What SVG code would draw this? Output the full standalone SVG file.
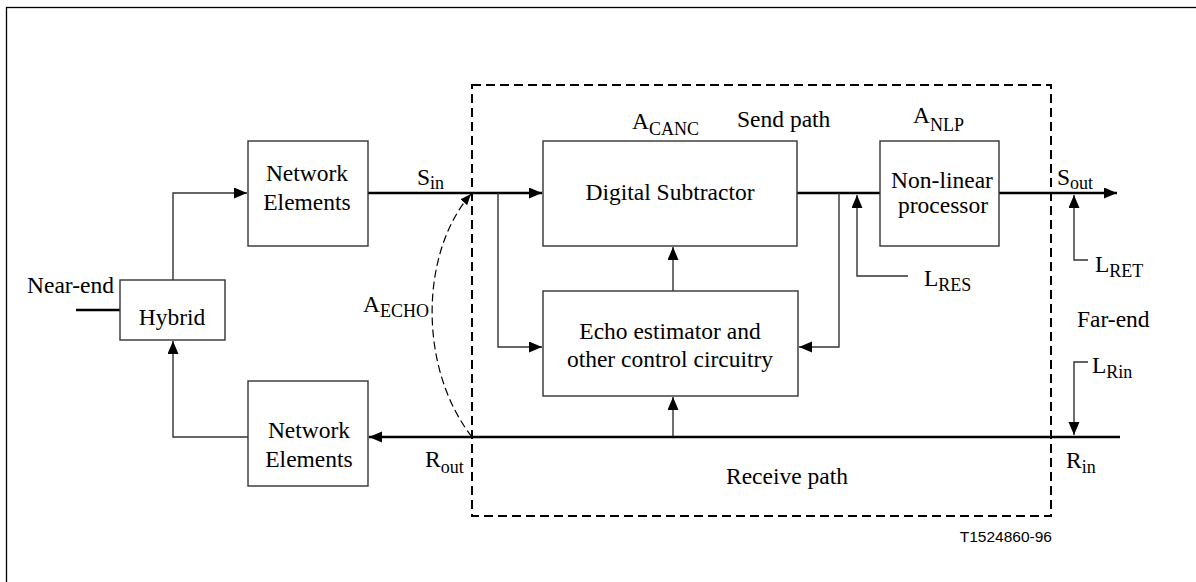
<svg xmlns="http://www.w3.org/2000/svg" width="1196" height="582" viewBox="0 0 1196 582">
<style>
  .box { fill: #fff; stroke: #333; stroke-width: 1.4; }
  text { font-family: 'Liberation Serif', Tinos, 'Times New Roman', Times, 'DejaVu Serif', serif; font-size: 23.5px; fill: #000; }
  .c { text-anchor: middle; }
  .sub { font-size: 18px; }
  .thin { fill: none; stroke: #333; stroke-width: 1.4; }
  .thick { fill: none; stroke: #000; stroke-width: 2.6; }
  .dash { fill: none; stroke: #000; stroke-width: 2; stroke-dasharray: 9 5; }
  .arc { fill: none; stroke: #000; stroke-width: 1.2; stroke-dasharray: 8 4; }
  text.code { font-family: 'Liberation Sans', Arial, sans-serif; font-size: 15.5px; text-anchor: end; }
</style>
<defs>
  <marker id="ah" markerUnits="userSpaceOnUse" markerWidth="14" markerHeight="12" refX="13" refY="5.5" orient="auto">
    <path d="M0,0 L13,5.5 L0,11 z" fill="#000"/>
  </marker>
  <marker id="ahs" markerUnits="userSpaceOnUse" markerWidth="12" markerHeight="10" refX="11" refY="4.5" orient="auto">
    <path d="M0,0 L11,4.5 L0,9 z" fill="#000"/>
  </marker>
</defs>
<rect x="6.5" y="7.5" width="1200" height="600" fill="#fff" stroke="#000" stroke-width="1.3"/>
<rect id="ec-boundary" x="472" y="85" width="579" height="431" class="dash"/>

<g id="connectors">
  <path class="thick" d="M76,310 H120"/>
  <path class="thin" d="M173,280 V193 H247" marker-end="url(#ah)"/>
  <path class="thin" d="M248,437 H173 V341" marker-end="url(#ah)"/>
  <path class="thick" d="M368,193 H542" marker-end="url(#ah)"/>
  <path class="thin" d="M498,193 V347 H542" marker-end="url(#ah)"/>
  <path class="thin" d="M673,291 V247" marker-end="url(#ah)"/>
  <path class="thin" d="M673,437 V397" marker-end="url(#ah)"/>
  <path class="thick" d="M797,193 H880"/>
  <path class="thin" d="M839,193 V347 H799" marker-end="url(#ah)"/>
  <path class="thin" d="M908,276 H857 V195" marker-end="url(#ah)"/>
  <path class="thick" d="M999,193 H1117" marker-end="url(#ah)"/>
  <path class="thin" d="M1088,260 H1074 V195" marker-end="url(#ah)"/>
  <path class="thin" d="M1088,362 H1074 V435" marker-end="url(#ah)"/>
  <path class="thick" d="M1120,437 H369" marker-end="url(#ah)"/>
  <path class="arc" d="M472,437 C418,368 420,252 471,194" marker-end="url(#ahs)"/>
</g>

<g id="network-elements-send">
  <rect class="box" x="248" y="141" width="120" height="105"/>
  <text class="c" x="307" y="181">Network</text>
  <text class="c" x="307" y="210">Elements</text>
</g>
<g id="hybrid">
  <rect class="box" x="120" y="280" width="105" height="60"/>
  <text class="c" x="172" y="325">Hybrid</text>
</g>
<g id="network-elements-receive">
  <rect class="box" x="248" y="381" width="120" height="105"/>
  <text class="c" x="309" y="438">Network</text>
  <text class="c" x="309" y="467">Elements</text>
</g>
<g id="digital-subtractor">
  <rect class="box" x="543" y="141" width="254" height="105"/>
  <text class="c" x="670" y="200">Digital Subtractor</text>
</g>
<g id="echo-estimator">
  <rect class="box" x="543" y="291" width="255" height="105"/>
  <text class="c" x="670" y="339">Echo estimator and</text>
  <text class="c" x="670" y="367">other control circuitry</text>
</g>
<g id="non-linear-processor">
  <rect class="box" x="880" y="141" width="119" height="105"/>
  <text class="c" x="942" y="188">Non-linear</text>
  <text class="c" x="943" y="213">processor</text>
</g>

<g id="labels">
  <text x="27" y="293">Near-end</text>
  <text x="417" y="185">S<tspan class="sub" dy="4">in</tspan></text>
  <text x="632" y="129">A<tspan class="sub" dy="6">CANC</tspan></text>
  <text x="737" y="127">Send path</text>
  <text x="913" y="123">A<tspan class="sub" dy="8">NLP</tspan></text>
  <text x="1057" y="185">S<tspan class="sub" dy="4">out</tspan></text>
  <text x="924" y="286">L<tspan class="sub" dy="5">RES</tspan></text>
  <text x="1095" y="272">L<tspan class="sub" dy="5">RET</tspan></text>
  <text x="1077" y="327">Far-end</text>
  <text x="1092" y="373">L<tspan class="sub" dy="5">Rin</tspan></text>
  <text x="1066" y="468">R<tspan class="sub" dy="5">in</tspan></text>
  <text x="425" y="467">R<tspan class="sub" dy="6">out</tspan></text>
  <text x="363" y="312">A<tspan class="sub" dy="5">ECHO</tspan></text>
  <text x="726" y="484">Receive path</text>
  <text class="code" x="1052" y="542">T1524860-96</text>
</g>
</svg>
